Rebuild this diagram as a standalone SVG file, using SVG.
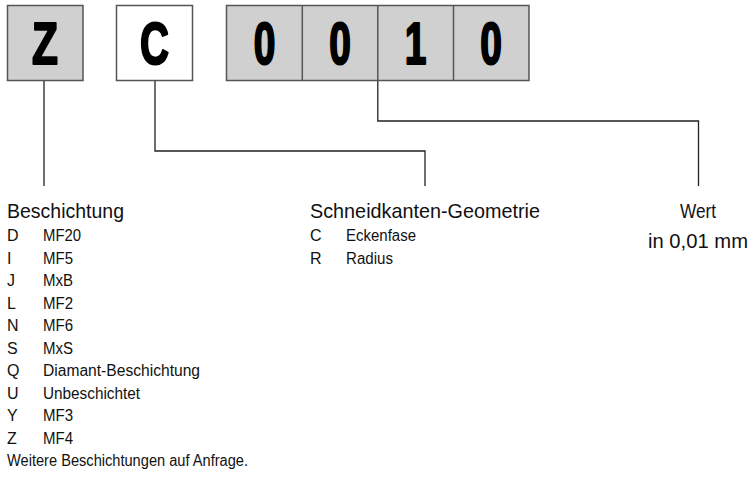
<svg xmlns="http://www.w3.org/2000/svg" width="755" height="488" viewBox="0 0 755 488">
<style>
.box{stroke:#555;stroke-width:1.5}
.g{fill:#d0d0d0}
.w{fill:#fff}
.big{font-family:"Liberation Sans",Arial,sans-serif;font-weight:bold;font-size:59px;text-anchor:middle;fill:#000;stroke:#000;stroke-width:2.2;stroke-linejoin:round}
.h{font-family:"Liberation Sans",Arial,sans-serif;font-size:21px;fill:#111}
.t{font-family:"Liberation Sans",Arial,sans-serif;font-size:16px;fill:#111}
.ln{fill:none;stroke:#222;stroke-width:1.3}
</style>
<rect width="755" height="488" fill="#fff"/>
<g id="node-Z">
<rect class="box g" x="7.5" y="5.5" width="75.5" height="75"/>
<text class="big" x="45" y="64" transform="translate(45 0) scale(0.72 1) translate(-45 0)">Z</text>
</g>
<g id="node-C">
<rect class="box w" x="116.5" y="5.5" width="76" height="75"/>
<text class="big" x="154.5" y="64" transform="translate(154.5 0) scale(0.68 1) translate(-154.5 0)">C</text>
</g>
<g id="node-value">
<rect class="box g" x="226.5" y="5.5" width="302.5" height="75"/>
<line class="box" x1="302.3" y1="5.5" x2="302.3" y2="80.5"/>
<line class="box" x1="377.8" y1="5.5" x2="377.8" y2="80.5"/>
<line class="box" x1="453.5" y1="5.5" x2="453.5" y2="80.5"/>
<text class="big" x="264.5" y="64" transform="translate(264.5 0) scale(0.66 1) translate(-264.5 0)">0</text>
<text class="big" x="340" y="64" transform="translate(340 0) scale(0.66 1) translate(-340 0)">0</text>
<text class="big" x="415.5" y="64" transform="translate(415.5 0) scale(0.66 1) translate(-415.5 0)">1</text>
<text class="big" x="491" y="64" transform="translate(491 0) scale(0.66 1) translate(-491 0)">0</text>
</g>
<g id="connectors">
<path class="ln" d="M44 81 V186"/>
<path class="ln" d="M155 81 V151 H425 V186"/>
<path class="ln" d="M377.8 81 V121 H698.5 V186"/>
</g>
<g id="legend-beschichtung">
<text class="h" x="7" y="218" textLength="117" lengthAdjust="spacingAndGlyphs">Beschichtung</text>
<g class="t">
<text x="7" y="241">D</text><text x="43" y="241" textLength="38" lengthAdjust="spacingAndGlyphs">MF20</text>
<text x="7" y="263.5">I</text><text x="43" y="263.5" textLength="30" lengthAdjust="spacingAndGlyphs">MF5</text>
<text x="7" y="286">J</text><text x="43" y="286" textLength="30" lengthAdjust="spacingAndGlyphs">MxB</text>
<text x="7" y="308.5">L</text><text x="43" y="308.5" textLength="30" lengthAdjust="spacingAndGlyphs">MF2</text>
<text x="7" y="331">N</text><text x="43" y="331" textLength="30" lengthAdjust="spacingAndGlyphs">MF6</text>
<text x="7" y="353.5">S</text><text x="43" y="353.5" textLength="30" lengthAdjust="spacingAndGlyphs">MxS</text>
<text x="7" y="376">Q</text><text x="43" y="376" textLength="157" lengthAdjust="spacingAndGlyphs">Diamant-Beschichtung</text>
<text x="7" y="398.5">U</text><text x="43" y="398.5" textLength="97" lengthAdjust="spacingAndGlyphs">Unbeschichtet</text>
<text x="7" y="421">Y</text><text x="43" y="421" textLength="30" lengthAdjust="spacingAndGlyphs">MF3</text>
<text x="7" y="443.5">Z</text><text x="43" y="443.5" textLength="30" lengthAdjust="spacingAndGlyphs">MF4</text>
<text x="7" y="466" textLength="241" lengthAdjust="spacingAndGlyphs">Weitere Beschichtungen auf Anfrage.</text>
</g>
</g>
<g id="legend-geometrie">
<text class="h" x="310" y="218" textLength="230" lengthAdjust="spacingAndGlyphs">Schneidkanten-Geometrie</text>
<g class="t">
<text x="310" y="241">C</text><text x="346" y="241" textLength="70" lengthAdjust="spacingAndGlyphs">Eckenfase</text>
<text x="310" y="263.5">R</text><text x="346" y="263.5" textLength="47" lengthAdjust="spacingAndGlyphs">Radius</text>
</g>
</g>
<g id="legend-wert">
<text class="h" x="698" y="218" text-anchor="middle" textLength="36" lengthAdjust="spacingAndGlyphs">Wert</text>
<text class="h" x="698" y="248" text-anchor="middle" textLength="100" lengthAdjust="spacingAndGlyphs">in 0,01 mm</text>
</g>
</svg>
